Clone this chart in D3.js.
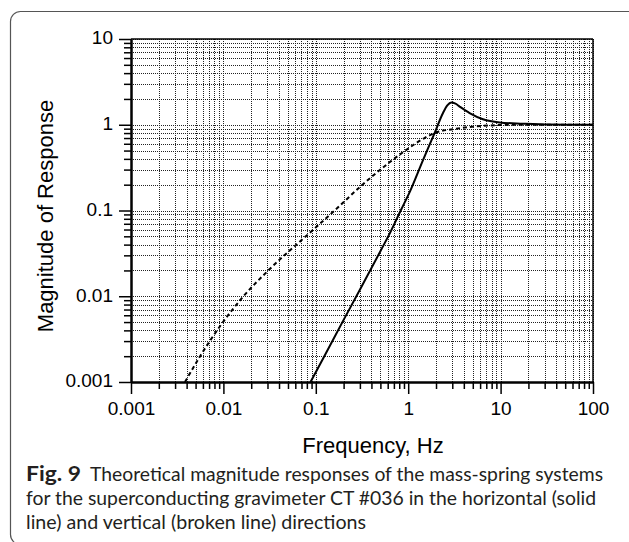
<!DOCTYPE html>
<html><head><meta charset="utf-8">
<script src="https://cdn.jsdelivr.net/npm/d3@7"></script>
<style>body{margin:0;background:#fff} svg{display:block}</style>
</head><body>
<svg id="c" width="629" height="542"></svg>
<script>
// ---- data ----
const horizFreq = [0.0877, 0.12, 0.2, 0.3, 0.5, 0.65, 0.83, 1.04, 1.45, 1.93, 2.38, 2.65, 2.93, 3.25, 3.6, 4.62, 6.44, 9.75, 17.4, 34, 100];
const horizMag  = [0.001, 0.00188, 0.0053, 0.0119, 0.0335, 0.0575, 0.1, 0.165, 0.39, 0.80, 1.37, 1.68, 1.82, 1.76, 1.63, 1.37, 1.16, 1.065, 1.03, 1.005, 1.0];
const vertFreq  = [0.00384, 0.0056, 0.0099, 0.0165, 0.0306, 0.078, 0.16, 0.32, 0.5, 0.93, 1.5, 1.93, 3.32, 7.6, 15, 100];
const vertMag   = [0.001, 0.002, 0.005, 0.01, 0.02, 0.05, 0.1, 0.2, 0.3, 0.5, 0.7, 0.8, 0.9, 0.98, 1.0, 1.0];
const xTickValues = [0.001, 0.01, 0.1, 1, 10, 100];
const xTickLabels = ["0.001", "0.01", "0.1", "1", "10", "100"];
const yTickValues = [0.001, 0.01, 0.1, 1, 10];
const yTickLabels = ["0.001", "0.01", "0.1", "1", "10"];
const xTitle = "Frequency, Hz";
const yTitle = "Magnitude of Response";
const captionBold = "Fig. 9";
const captionLines = [
  "Theoretical magnitude responses of the mass-spring systems",
  "for the superconducting gravimeter CT #036 in the horizontal (solid",
  "line) and vertical (broken line) directions"
];

// ---- layout ----
const svg = d3.select("#c");
const P = {left: 131, right: 593, top: 39, bottom: 382};
const x = d3.scaleLog().domain([0.001, 100]).range([P.left, P.right]);
const y = d3.scaleLog().domain([0.001, 10]).range([P.bottom, P.top]);
const axisFont = "'Liberation Sans', Arial, Helvetica, sans-serif";

svg.append("rect").attr("x", 10.5).attr("y", 11.5).attr("width", 660).attr("height", 533)
  .attr("rx", 10).attr("fill", "none").attr("stroke", "#555").attr("stroke-width", 1.2);

function minors(lo, hi) {
  const out = [];
  for (let e = lo; e < hi; e++) for (let k = 1; k <= 9; k++) out.push(k * Math.pow(10, e));
  out.push(Math.pow(10, hi));
  return out;
}
const gx = minors(-3, 2), gy = minors(-3, 1);
const isMajor = (arr, v) => arr.some(t => Math.abs(Math.log10(t) - Math.log10(v)) < 1e-9);
const minorX = gx.filter(v => !isMajor(xTickValues, v));
const minorY = gy.filter(v => !isMajor(yTickValues, v));

// grid
const grid = svg.append("g").attr("stroke", "#222").attr("stroke-width", 1).attr("stroke-dasharray", "1,1");
grid.selectAll(".gv").data(gx).join("line")
  .attr("x1", d => Math.round(x(d)) + 0.5).attr("x2", d => Math.round(x(d)) + 0.5)
  .attr("y1", P.top).attr("y2", P.bottom);
grid.selectAll(".gh").data(gy).join("line")
  .attr("y1", d => Math.round(y(d)) + 0.5).attr("y2", d => Math.round(y(d)) + 0.5)
  .attr("x1", P.left).attr("x2", P.right);

// frame top / right
svg.append("line").attr("x1", P.left).attr("x2", P.right).attr("y1", P.top).attr("y2", P.top)
  .attr("stroke", "#000").attr("stroke-width", 1.5);
svg.append("line").attr("x1", P.right).attr("x2", P.right).attr("y1", P.top).attr("y2", P.bottom)
  .attr("stroke", "#000").attr("stroke-width", 1.5);

// series
svg.append("clipPath").attr("id", "pc").append("rect")
  .attr("x", P.left).attr("y", P.top).attr("width", P.right - P.left).attr("height", P.bottom - P.top);
const line = d3.line().x(d => x(d[0])).y(d => y(d[1])).curve(d3.curveMonotoneX);
svg.append("path").datum(vertFreq.map((f, i) => [f, vertMag[i]]))
  .attr("d", line).attr("fill", "none").attr("stroke", "#000").attr("stroke-width", 2)
  .attr("stroke-dasharray", "4,3").attr("clip-path", "url(#pc)");
svg.append("path").datum(horizFreq.map((f, i) => [f, horizMag[i]]))
  .attr("d", line).attr("fill", "none").attr("stroke", "#000").attr("stroke-width", 2)
  .attr("clip-path", "url(#pc)");

// axes
function styleAxis(g) {
  g.selectAll("path.domain").attr("stroke", "#000").attr("stroke-width", 2);
  g.selectAll(".tick line").attr("stroke", "#000").attr("stroke-width", 1.5);
  g.selectAll("text").attr("fill", "#000").style("font-family", axisFont).style("font-size", "19px");
}
const xa = svg.append("g").attr("transform", `translate(0,${P.bottom})`);
xa.call(d3.axisBottom(x).tickValues(minorX).tickSize(7).tickSizeOuter(0).tickFormat(""));
styleAxis(xa);
const xa2 = svg.append("g").attr("transform", `translate(0,${P.bottom})`);
xa2.call(d3.axisBottom(x).tickValues(xTickValues).tickSize(12).tickSizeOuter(0).tickPadding(8)
  .tickFormat((d, i) => xTickLabels[i]));
styleAxis(xa2);

const ya = svg.append("g").attr("transform", `translate(${P.left},0)`);
ya.call(d3.axisLeft(y).tickValues(minorY).tickSize(7).tickSizeOuter(0).tickFormat(""));
styleAxis(ya);
const ya2 = svg.append("g").attr("transform", `translate(${P.left},0)`);
ya2.call(d3.axisLeft(y).tickValues(yTickValues).tickSize(12).tickSizeOuter(0).tickPadding(6)
  .tickFormat((d, i) => yTickLabels[i]));
styleAxis(ya2);
ya2.selectAll("text").attr("dy", "0.25em");

// titles
svg.append("text").attr("x", 373).attr("y", 453).attr("text-anchor", "middle")
  .style("font-family", axisFont).style("font-size", "22px").text(xTitle);
svg.append("text").attr("transform", "translate(53,216) rotate(-90)").attr("text-anchor", "middle")
  .style("font-family", axisFont).style("font-size", "22px").text(yTitle);

// caption
const capFont = "Lato, 'Noto Sans', sans-serif";
const capColor = "#231f20";
svg.append("text").attr("x", 26).attr("y", 481).attr("fill", capColor)
  .style("font-family", capFont).style("font-size", "20px").style("font-weight", "bold")
  .attr("textLength", 55).attr("lengthAdjust", "spacingAndGlyphs").text(captionBold);
const capX = [90, 26, 26], capEnd = [603, 596, 366], capY = [481, 505, 529];
captionLines.forEach((t, i) => {
  svg.append("text").attr("x", capX[i]).attr("y", capY[i]).attr("fill", capColor)
    .style("font-family", capFont).style("font-size", "20px")
    .attr("textLength", capEnd[i] - capX[i]).attr("lengthAdjust", "spacingAndGlyphs").text(t);
});
</script>
</body></html>
